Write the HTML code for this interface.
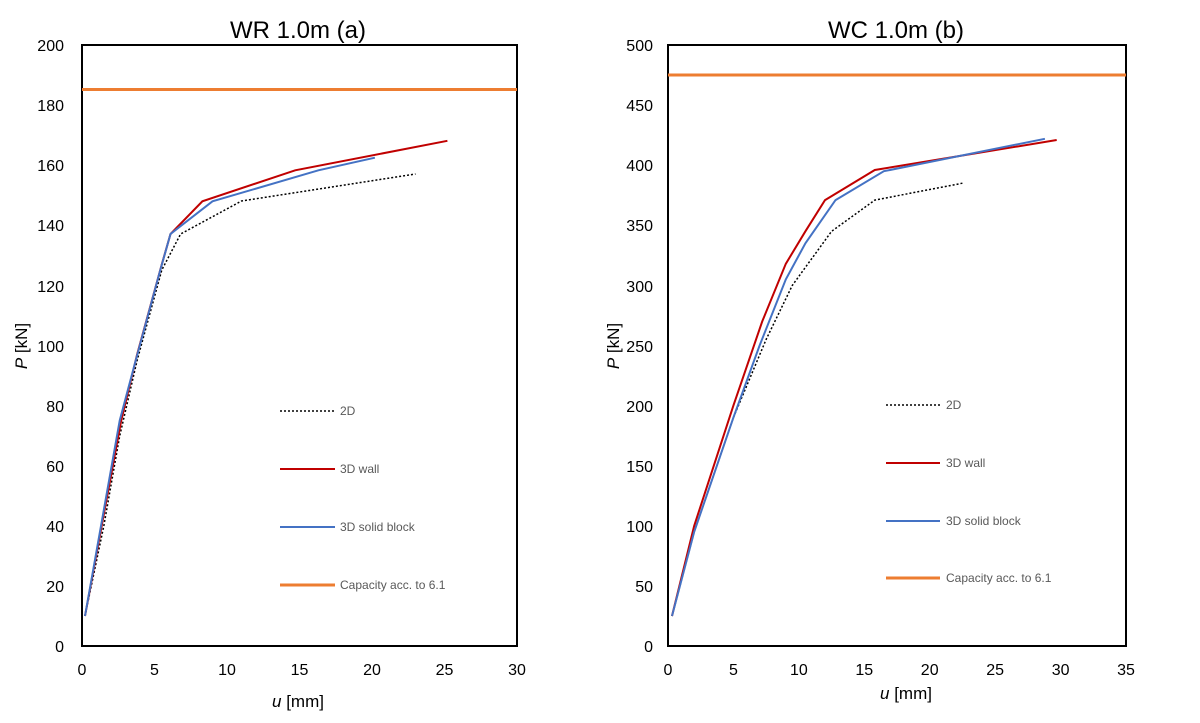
<!DOCTYPE html><html><head><style>body{margin:0;background:#fff}svg text{font-family:"Liberation Sans",sans-serif}</style></head><body>
<svg width="1200" height="718" xmlns="http://www.w3.org/2000/svg">
<g font-size="17" fill="#000">
<text x="298" y="38" font-size="24" text-anchor="middle">WR 1.0m (a)</text>
<text x="896" y="38" font-size="24" text-anchor="middle">WC 1.0m (b)</text>
</g>
<!-- left -->
<rect x="82" y="45" width="435" height="601" fill="none" stroke="#000" stroke-width="2"/>
<g font-size="16" text-anchor="end">
<text x="64" y="652">0</text><text x="64" y="592">20</text><text x="64" y="532">40</text><text x="64" y="472">60</text><text x="64" y="412">80</text><text x="64" y="352">100</text><text x="64" y="292">120</text><text x="64" y="231">140</text><text x="64" y="171">160</text><text x="64" y="111">180</text><text x="64" y="51">200</text>
</g>
<g font-size="16" text-anchor="middle">
<text x="82" y="675">0</text><text x="154.5" y="675">5</text><text x="227" y="675">10</text><text x="299.5" y="675">15</text><text x="372" y="675">20</text><text x="444.5" y="675">25</text><text x="517" y="675">30</text>
<text x="298" y="707" font-size="17"><tspan font-style="italic">u</tspan> [mm]</text>
<text transform="translate(27,346) rotate(-90)" font-size="17"><tspan font-style="italic">P</tspan> [kN]</text>
</g>
<line x1="82" y1="89.5" x2="517" y2="89.5" stroke="#ED7D31" stroke-width="3"/>
<polyline fill="none" stroke="#000" stroke-width="1.5" stroke-dasharray="2,2" points="85,616 103.8,526 119.7,436 137.1,360.5 161.8,270 180.6,234 241.5,201 415.5,174"/>
<polyline fill="none" stroke="#C00000" stroke-width="2" points="85,616 121.2,420.6 137.1,354.5 161.8,264.4 170.5,234 202.4,201.3 295.2,170.3 447.4,140.8"/>
<polyline fill="none" stroke="#4472C4" stroke-width="2" points="85,616 119.7,420.6 135.7,360.5 160.3,270 170.5,234 212.5,201.3 318.4,170.3 374.9,157.7"/>
<g font-size="12" fill="#595959">
<line x1="280" y1="411" x2="335" y2="411" stroke="#000" stroke-width="1.5" stroke-dasharray="2,2"/><text x="340" y="415">2D</text>
<line x1="280" y1="469" x2="335" y2="469" stroke="#C00000" stroke-width="2"/><text x="340" y="473">3D wall</text>
<line x1="280" y1="527" x2="335" y2="527" stroke="#4472C4" stroke-width="2"/><text x="340" y="531">3D solid block</text>
<line x1="280" y1="585" x2="335" y2="585" stroke="#ED7D31" stroke-width="3"/><text x="340" y="589">Capacity acc. to 6.1</text>
</g>
<!-- right -->
<rect x="668" y="45" width="458" height="601" fill="none" stroke="#000" stroke-width="2"/>
<g font-size="16" text-anchor="end">
<text x="653" y="652">0</text><text x="653" y="592">50</text><text x="653" y="532">100</text><text x="653" y="472">150</text><text x="653" y="412">200</text><text x="653" y="352">250</text><text x="653" y="292">300</text><text x="653" y="231">350</text><text x="653" y="171">400</text><text x="653" y="111">450</text><text x="653" y="51">500</text>
</g>
<g font-size="16" text-anchor="middle">
<text x="668" y="675">0</text><text x="733.4" y="675">5</text><text x="798.9" y="675">10</text><text x="864.3" y="675">15</text><text x="929.7" y="675">20</text><text x="995.1" y="675">25</text><text x="1060.6" y="675">30</text><text x="1126" y="675">35</text>
<text x="906" y="699" font-size="17"><tspan font-style="italic">u</tspan> [mm]</text>
<text transform="translate(619,346) rotate(-90)" font-size="17"><tspan font-style="italic">P</tspan> [kN]</text>
</g>
<line x1="668" y1="75" x2="1126" y2="75" stroke="#ED7D31" stroke-width="3"/>
<polyline fill="none" stroke="#000" stroke-width="1.5" stroke-dasharray="2,2" points="672,616 694.2,531.8 733.4,417.6 766.1,339.5 792.3,285.4 831.6,231.3 874.8,200.1 962.4,183.2"/>
<polyline fill="none" stroke="#C00000" stroke-width="2" points="672,616 694.2,525.8 713.8,465.7 733.4,405.6 762.2,321.5 785.8,263.8 805.4,231.3 825,200.1 874.8,170 1056.7,140"/>
<polyline fill="none" stroke="#4472C4" stroke-width="2" points="672,616 694.2,531.8 733.4,417.6 759.6,345.5 785.8,279.4 805.4,243.3 835.5,200.1 883.9,171.2 1044.9,138.8"/>
<g font-size="12" fill="#595959">
<line x1="886" y1="405" x2="940" y2="405" stroke="#000" stroke-width="1.5" stroke-dasharray="2,2"/><text x="946" y="409">2D</text>
<line x1="886" y1="463" x2="940" y2="463" stroke="#C00000" stroke-width="2"/><text x="946" y="467">3D wall</text>
<line x1="886" y1="521" x2="940" y2="521" stroke="#4472C4" stroke-width="2"/><text x="946" y="525">3D solid block</text>
<line x1="886" y1="578" x2="940" y2="578" stroke="#ED7D31" stroke-width="3"/><text x="946" y="582">Capacity acc. to 6.1</text>
</g>
</svg></body></html>
